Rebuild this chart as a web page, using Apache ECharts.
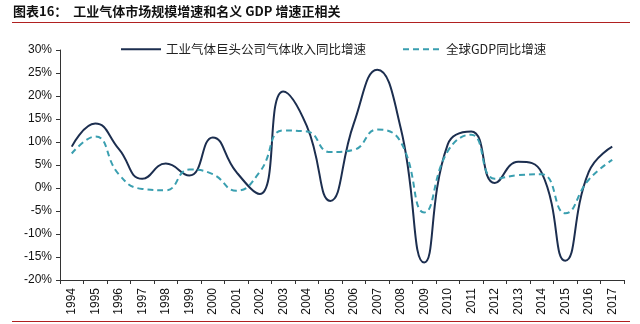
<!DOCTYPE html>
<html>
<head>
<meta charset="utf-8">
<script src="https://cdn.jsdelivr.net/npm/echarts@6/dist/echarts.min.js"></script>
<style>
html,body{margin:0;padding:0;background:#fff;}
#c{width:640px;height:324px;}
</style>
</head>
<body>
<div id="c"></div>
<script>
const years = ['1994','1995','1996','1997','1998','1999','2000','2001','2002','2003','2004','2005','2006','2007','2008','2009','2010','2011','2012','2013','2014','2015','2016','2017'];
const gasGrowth = [9, 14, 8.5, 2, 5.3, 2.7, 11, 3.5, -1.3, 21, 13.5, -2.8, 14, 25.7, 13, -16.2, 9.5, 12.3, 1.1, 5.7, 3.3, -15.8, 3.5, 9];
const gdpGrowth = [7.5, 11.2, 3, -0.2, -0.5, 4, 3, -0.6, 3.5, 12.5, 12.3, 7.8, 8.3, 12.7, 10, -5.3, 8, 11.6, 2, 2.8, 3, -5.5, 1.8, 6.1];
const seriesNames = ['工业气体巨头公司气体收入同比增速', '全球GDP同比增速'];
const titleText = '图表16：  工业气体市场规模增速和名义 GDP 增速正相关';

const chart = echarts.init(document.getElementById('c'), null, {renderer: 'canvas'});
const cjk = '"Noto Sans CJK SC", sans-serif';
chart.setOption({
  animation: false,
  backgroundColor: '#fff',
  grid: {left: 60, right: 16, top: 50, bottom: 44},
  legend: [
    {data: [seriesNames[0]], left: 115, top: 38, itemWidth: 40, itemHeight: 10, itemGap: 8,
     itemStyle: {opacity: 0},
     textStyle: {fontFamily: cjk, fontSize: 12.5, color: '#222'}},
    {data: [seriesNames[1]], left: 397, top: 38, itemWidth: 38, itemHeight: 10,
     itemStyle: {opacity: 0},
     textStyle: {fontFamily: cjk, fontSize: 12.5, color: '#222'}}
  ],
  xAxis: [
    {type: 'category', data: years, position: 'bottom',
     axisLine: {show: false}, axisTick: {show: false},
     axisLabel: {rotate: 90, interval: 0, fontFamily: 'Arial, "Liberation Sans"', fontSize: 12, color: '#111', margin: 8}},
    {type: 'category', data: years, position: 'bottom',
     axisLine: {onZero: true, lineStyle: {color: '#333', width: 1}},
     axisTick: {show: true, inside: false, length: 4, interval: 0, lineStyle: {color: '#333'}},
     axisLabel: {show: false}}
  ],
  yAxis: {
    type: 'value', min: -20, max: 30, interval: 5,
    axisLine: {show: true, lineStyle: {color: '#333'}},
    axisTick: {show: true, length: 4, lineStyle: {color: '#333'}},
    splitLine: {show: false},
    axisLabel: {formatter: v => v + '%', fontFamily: 'Arial, "Liberation Sans"', fontSize: 12, color: '#111', margin: 8}
  },
  series: [
    {name: seriesNames[0], type: 'line', xAxisIndex: 0, data: gasGrowth, smooth: 0.5, symbol: 'none',
     lineStyle: {color: '#1c2e4f', width: 2}, itemStyle: {color: '#1c2e4f'}},
    {name: seriesNames[1], type: 'line', xAxisIndex: 0, data: gdpGrowth, smooth: 0.5, symbol: 'none',
     lineStyle: {color: '#3a9fb0', width: 2, type: [6, 4]}, itemStyle: {color: '#3a9fb0'}}
  ],
  graphic: [
    {type: 'text', left: 13, top: 5, style: {text: titleText, font: 'bold 13px "Noto Sans CJK SC"', fill: '#111'}},
    {type: 'line', shape: {x1: 12, y1: 22.5, x2: 630, y2: 22.5}, style: {stroke: '#b02020', lineWidth: 1.2}},
    {type: 'line', shape: {x1: 12, y1: 321.5, x2: 630, y2: 321.5}, style: {stroke: '#b02020', lineWidth: 1.2}}
  ]
});
</script>
</body>
</html>
